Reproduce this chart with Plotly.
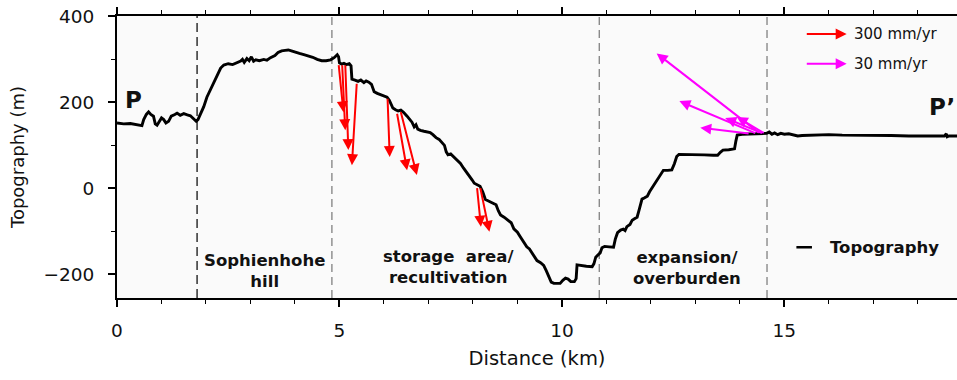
import plotly.graph_objects as go

# ---------------- data ----------------
distance_km = [0.00, 0.15, 0.30, 0.45, 0.56, 0.60, 0.66, 0.71, 0.76, 0.82, 0.86, 0.90, 0.96, 1.00, 1.05, 1.10,
               1.16, 1.22, 1.30, 1.35, 1.42, 1.50, 1.58, 1.65, 1.72, 1.78, 1.82, 1.87, 1.95, 2.02, 2.10, 2.18,
               2.26, 2.33, 2.40, 2.50, 2.60, 2.70, 2.78, 2.82, 2.86, 2.92, 2.97, 3.02, 3.07, 3.12, 3.20, 3.30,
               3.37, 3.45, 3.55, 3.62, 3.70, 3.78, 3.85, 3.92, 4.00, 4.10, 4.20, 4.30, 4.40, 4.50, 4.60, 4.70,
               4.80, 4.88, 4.95, 4.98, 5.00, 5.05, 5.10, 5.15, 5.22, 5.26, 5.28, 5.35, 5.42, 5.48, 5.55, 5.60,
               5.66, 5.72, 5.78, 5.85, 5.92, 6.00, 6.07, 6.12, 6.20, 6.26, 6.32, 6.38, 6.44, 6.52, 6.58, 6.63,
               6.68, 6.72, 6.76, 6.82, 6.90, 6.97, 7.04, 7.10, 7.17, 7.24, 7.30, 7.36, 7.40, 7.44, 7.50, 7.56,
               7.64, 7.72, 7.79, 7.86, 7.92, 7.98, 8.03, 8.10, 8.16, 8.22, 8.28, 8.36, 8.44, 8.52, 8.57, 8.62,
               8.70, 8.78, 8.86, 8.92, 9.00, 9.06, 9.13, 9.21, 9.27, 9.33, 9.39, 9.44, 9.52, 9.59, 9.65, 9.71,
               9.76, 9.82, 9.90, 9.96, 10.02, 10.08, 10.14, 10.20, 10.28, 10.32, 10.34, 10.45, 10.55, 10.68,
               10.72, 10.76, 10.82, 10.86, 10.90, 10.96, 11.06, 11.16, 11.20, 11.25, 11.32, 11.38, 11.42, 11.46,
               11.53, 11.58, 11.64, 11.69, 11.74, 11.80, 11.86, 11.92, 11.97, 12.02, 12.08, 12.13, 12.20, 12.28,
               12.38, 12.47, 12.53, 12.58, 12.63, 12.80, 13.00, 13.20, 13.40, 13.50, 13.56, 13.62, 13.75, 13.88,
               13.91, 13.94, 14.05, 14.20, 14.40, 14.60, 14.66, 14.72, 14.78, 14.85, 14.92, 15.00, 15.10, 15.20,
               15.30, 15.40, 15.60, 15.80, 16.00, 16.30, 16.60, 17.00, 17.40, 17.80, 18.20, 18.60, 18.64, 18.66,
               18.70, 18.88]
topography_m = [152, 150, 151, 149, 146, 160, 172, 178, 172, 168, 150, 147, 158, 164, 160, 152,
                156, 168, 172, 175, 170, 174, 171, 169, 162, 156, 160, 172, 190, 212, 230, 250,
                268, 280, 287, 290, 288, 292, 296, 300, 293, 302, 297, 306, 296, 299, 297, 300,
                298, 304, 309, 316, 320, 321, 322, 320, 318, 314, 311, 308, 305, 300, 297, 297,
                299, 304, 311, 306, 292, 289, 291, 288, 290, 285, 254, 252, 249, 252, 246, 250,
                247, 242, 225, 221, 218, 216, 212, 205, 187, 183, 180, 182, 177, 168, 160, 154,
                143, 148, 138, 135, 133, 131, 130, 125, 118, 114, 107, 100, 85, 78, 80, 74,
                68, 58, 47, 38, 30, 20, 12, 8, 5, -8, -26, -30, -34, -38, -52, -62,
                -67, -73, -80, -94, -102, -112, -124, -136, -141, -150, -162, -168, -173, -179, -192, -205,
                -218, -221, -220, -221, -214, -209, -211, -217, -217, -210, -178, -180, -181, -182,
                -175, -160, -155, -150, -138, -135, -136, -137, -118, -103, -97, -95, -98, -89,
                -84, -74, -70, -67, -48, -25, -22, -18, -8, 0, 10, 18, 30, 42,
                42, 43, 58, 74, 79, 79, 78, 78, 77, 77, 84, 89, 90, 92,
                110, 124, 126, 127, 127, 128, 131, 126, 129, 125, 128, 126, 127, 124,
                122, 123, 124, 124, 125, 124, 124, 123, 123, 122, 122, 122, 127, 120,
                122, 122]

# zone boundaries (km)
boundaries_km = [1.80, 4.83, 10.84, 14.61]

# red velocity vectors (scale 300 mm/yr): tail -> head
red_tail_x = [4.98, 5.06, 5.13, 5.39, 6.08, 6.29, 6.37, 8.09, 8.16]
red_tail_y = [290, 290, 290, 247, 212, 177, 181, 4, 4]
red_head_x = [5.09, 5.13, 5.20, 5.28, 6.13, 6.52, 6.74, 8.18, 8.37]
red_head_y = [177, 135, 89, 54, 73, 42, 31, -89, -101]

# magenta velocity vectors (scale 30 mm/yr)
mag_tail_x = [14.46, 14.38, 14.23, 14.53, 14.57]
mag_tail_y = [127, 127, 127, 127, 127]
mag_head_x = [12.13, 12.64, 13.11, 13.67, 13.93]
mag_head_y = [314, 203, 141, 164, 166]

zone_labels = ["Sophienhohe<br>hill", "storage&nbsp; area/<br>recultivation", "expansion/<br>overburden"]
zone_label_x = [3.31, 7.46, 12.82]
zone_label_y = [-192, -183, -185]

legend_labels = ["300 mm/yr", "30 mm/yr"]
legend_colors = ["#ff0000", "#ff00ff"]

x_ticks = [0, 5, 10, 15]
y_ticks = [-200, 0, 200, 400]

# ---------------- figure ----------------
FONT = "DejaVu Sans"
fig = go.Figure()

fig.add_trace(go.Scatter(x=distance_km, y=topography_m, mode="lines",
                         line=dict(color="black", width=2.9), showlegend=False,
                         hoverinfo="skip"))

shapes = []
for i, b in enumerate(boundaries_km):
    shapes.append(dict(type="line", xref="x", yref="paper", x0=b, x1=b, y0=0, y1=1,
                       line=dict(color="#222222" if i == 0 else "#8a8a8a", width=1.4,
                                 dash="9px,5px" if i == 0 else "8px,5px"),
                       layer="below"))
# topography legend dash
shapes.append(dict(type="line", xref="x", yref="y", x0=15.27, x1=15.62, y0=-137, y1=-137,
                   line=dict(color="black", width=2.5)))

annotations = []
for tx, ty, hx, hy in zip(red_tail_x, red_tail_y, red_head_x, red_head_y):
    annotations.append(dict(x=hx, y=hy, ax=tx, ay=ty, xref="x", yref="y", axref="x", ayref="y",
                            text="", showarrow=True, arrowhead=2, arrowsize=1.1, arrowwidth=2,
                            arrowcolor="#ff0000", standoff=0, startstandoff=0))
for tx, ty, hx, hy in zip(mag_tail_x, mag_tail_y, mag_head_x, mag_head_y):
    annotations.append(dict(x=hx, y=hy, ax=tx, ay=ty, xref="x", yref="y", axref="x", ayref="y",
                            text="", showarrow=True, arrowhead=2, arrowsize=1.1, arrowwidth=2,
                            arrowcolor="#ff00ff", standoff=0, startstandoff=0))

# velocity legend
for lbl, col, ly in zip(legend_labels, legend_colors, [359, 290]):
    annotations.append(dict(x=16.40, y=ly, ax=15.47, ay=ly, xref="x", yref="y", axref="x", ayref="y",
                            text="", showarrow=True, arrowhead=2, arrowsize=1.1, arrowwidth=2,
                            arrowcolor=col, standoff=0, startstandoff=0))
    annotations.append(dict(x=16.52, y=ly, xref="x", yref="y", text=lbl, showarrow=False,
                            xanchor="left", yanchor="middle",
                            font=dict(family=FONT, size=15, color="#111111")))

for txt, lx, ly in zip(zone_labels, zone_label_x, zone_label_y):
    annotations.append(dict(x=lx, y=ly, xref="x", yref="y", text="<b>" + txt + "</b>",
                            showarrow=False, xanchor="center", yanchor="middle", align="center",
                            font=dict(family=FONT, size=16.5, color="#111111")))

annotations.append(dict(x=15.99, y=-138, xref="x", yref="y", text="<b>Topography</b>",
                        showarrow=False, xanchor="left", yanchor="middle",
                        font=dict(family=FONT, size=16.5, color="#111111")))
annotations.append(dict(x=0.37, y=205, xref="x", yref="y", text="<b>P</b>", showarrow=False,
                        xanchor="center", yanchor="middle",
                        font=dict(family=FONT, size=23, color="#111111")))
annotations.append(dict(x=18.55, y=189, xref="x", yref="y", text="<b>P’</b>", showarrow=False,
                        xanchor="center", yanchor="middle",
                        font=dict(family=FONT, size=23, color="#111111")))

fig.update_layout(
    width=957, height=380,
    margin=dict(l=117, r=0, t=16, b=82),
    paper_bgcolor="white", plot_bgcolor="#fafafa",
    shapes=shapes, annotations=annotations, showlegend=False,
    xaxis=dict(range=[0, 18.88], tickvals=x_ticks, ticks="outside", ticklen=7, tickwidth=1.5,
               tickcolor="black", showline=True, linewidth=2, linecolor="black", mirror="ticks",
               showgrid=False, zeroline=False, ticklabelstandoff=8,
               minor=dict(dtick=1, ticks="outside", ticklen=4, tickwidth=1.2, tickcolor="black", showgrid=False),
               tickfont=dict(family=FONT, size=18.5, color="#111111"),
               title=dict(text="Distance (km)", standoff=11,
                          font=dict(family=FONT, size=19.5, color="#111111"))),
    yaxis=dict(range=[-255, 401], tickvals=y_ticks, ticks="outside", ticklen=7, tickwidth=1.5,
               tickcolor="black", showline=True, linewidth=2, linecolor="black", mirror=False,
               showgrid=False, zeroline=False, ticklabelstandoff=10,
               minor=dict(dtick=100, ticks="outside", ticklen=4, tickwidth=1.2, tickcolor="black", showgrid=False),
               tickfont=dict(family=FONT, size=18.5, color="#111111"),
               title=dict(text="Topography (m)", standoff=14,
                          font=dict(family=FONT, size=18, color="#111111"))),
)

fig.write_html("out.html")
